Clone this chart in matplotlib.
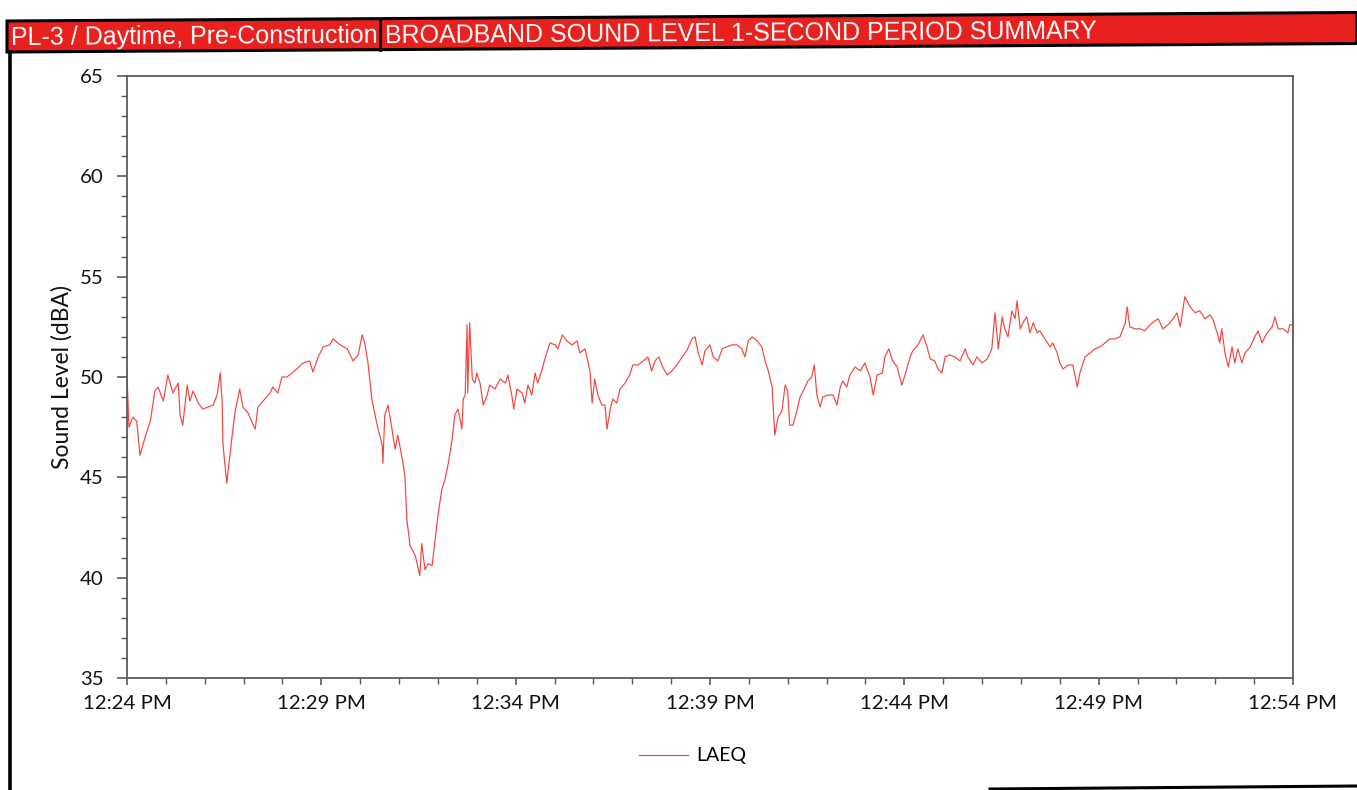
import matplotlib
matplotlib.use("Agg")
import matplotlib.pyplot as plt
from matplotlib.patches import Polygon
from matplotlib.lines import Line2D
from matplotlib.ticker import FixedLocator, MultipleLocator

W, H = 1357, 790

# LAEQ readings, seconds after 12:24:00 PM
seconds = [
    0, 3, 9, 15, 20, 28, 36, 43, 48, 56, 63, 71, 79, 82, 86, 93, 97, 102, 110,
    117, 125, 133, 139, 144, 147, 148, 154, 162, 167, 174, 179, 187, 195, 198,
    202, 210, 221, 225, 233, 239, 247, 255, 262, 272, 282, 287, 295, 303, 313,
    318, 329, 340, 349, 357, 363, 367, 372, 378, 383, 387, 394, 395, 398, 403,
    409, 414, 418, 425, 429, 432, 437, 445, 452, 455, 460, 465, 471, 475, 480,
    486, 491, 496, 502, 506, 511, 517, 519, 522, 525, 526, 529, 533, 537, 540,
    545, 550, 556, 560, 568, 576, 584, 588, 594, 597, 602, 610, 614, 619, 625,
    630, 634, 641, 645, 653, 661, 665, 672, 679, 687, 695, 699, 707, 712, 715,
    718, 722, 727, 733, 738, 741, 746, 750, 756, 761, 769, 776, 781, 789, 797,
    804, 810, 815, 821, 827, 834, 841, 849, 857, 864, 872, 877, 881, 888, 892,
    900, 905, 912, 919, 926, 934, 942, 949, 954, 959, 965, 973, 980, 985, 990,
    996, 997, 1000, 1005, 1011, 1016, 1020, 1023, 1028, 1034, 1039, 1044, 1051,
    1057, 1061, 1065, 1070, 1074, 1082, 1090, 1096, 1101, 1105, 1111, 1116,
    1124, 1132, 1139, 1147, 1152, 1158, 1166, 1170, 1176, 1182, 1189, 1196,
    1201, 1209, 1213, 1221, 1229, 1235, 1240, 1247, 1252, 1258, 1263, 1270,
    1278, 1286, 1294, 1298, 1306, 1312, 1320, 1328, 1335, 1340, 1345, 1351,
    1355, 1360, 1366, 1371, 1374, 1379, 1383, 1389, 1394, 1399, 1405, 1409,
    1417, 1425, 1429, 1436, 1440, 1445, 1453, 1460, 1467, 1471, 1479, 1487,
    1494, 1502, 1510, 1517, 1525, 1533, 1541, 1544, 1548, 1556, 1564, 1571,
    1579, 1587, 1592, 1599, 1607, 1615, 1621, 1626, 1633, 1641, 1649, 1656,
    1664, 1672, 1676, 1683, 1687, 1690, 1695, 1700, 1706, 1710, 1715, 1721,
    1726, 1734, 1741, 1746, 1752, 1760, 1768, 1772, 1777, 1785, 1792, 1795,
    1800,
]
laeq = [
    50.1, 47.5, 48.0, 47.8, 46.1, 47.0, 47.8, 49.3, 49.5, 48.8, 50.1, 49.2,
    49.7, 48.1, 47.6, 49.6, 48.8, 49.3, 48.7, 48.4, 48.5, 48.6, 49.1, 50.2,
    48.7, 46.7, 44.7, 47.0, 48.3, 49.4, 48.5, 48.2, 47.6, 47.4, 48.5, 48.8,
    49.2, 49.5, 49.2, 50.0, 50.0, 50.2, 50.4, 50.7, 50.8, 50.25, 51.0, 51.5,
    51.6, 51.9, 51.6, 51.4, 50.8, 51.1, 52.1, 51.7, 50.7, 48.9, 48.1, 47.5,
    46.6, 45.7, 48.1, 48.6, 47.4, 46.4, 47.1, 45.9, 45.1, 42.9, 41.6, 41.1,
    40.1, 41.7, 40.4, 40.7, 40.6, 41.7, 43.1, 44.4, 44.9, 45.7, 46.9, 48.1,
    48.4, 47.4, 48.9, 49.1, 52.6, 49.2, 52.7, 49.9, 49.7, 50.2, 49.7, 48.6,
    49.1, 49.6, 49.4, 49.9, 49.7, 50.1, 49.1, 48.4, 49.4, 49.2, 48.7, 49.6,
    49.1, 50.2, 49.7, 50.4, 50.9, 51.7, 51.6, 51.4, 52.1, 51.8, 51.6, 51.8,
    51.2, 51.4, 50.7, 50.2, 48.7, 49.9, 49.1, 48.6, 48.6, 47.4, 48.4, 48.9,
    48.7, 49.4, 49.7, 50.1, 50.6, 50.6, 50.8, 51.0, 50.3, 50.8, 51.0, 50.5,
    50.1, 50.3, 50.6, 51.0, 51.3, 51.9, 52.0, 51.3, 50.6, 51.3, 51.6, 51.0,
    50.8, 51.4, 51.5, 51.6, 51.6, 51.4, 51.0, 51.8, 52.0, 51.8, 51.5, 50.8,
    50.3, 49.5, 48.8, 47.1, 48.0, 48.3, 49.6, 49.3, 47.6, 47.6, 48.3, 49.0,
    49.3, 49.8, 50.0, 50.6, 49.1, 48.5, 49.0, 49.1, 49.1, 48.6, 49.5, 49.8,
    49.5, 50.1, 50.5, 50.3, 50.7, 50.0, 49.1, 50.1, 50.2, 51.0, 51.4, 50.8,
    50.5, 49.6, 50.1, 51.0, 51.3, 51.6, 52.1, 51.5, 50.9, 50.8, 50.4, 50.2,
    51.0, 51.1, 51.0, 50.8, 51.4, 51.0, 50.6, 51.0, 50.7, 50.9, 51.4, 53.2,
    51.4, 53.0, 52.4, 52.0, 53.3, 52.9, 53.8, 52.4, 52.7, 53.0, 52.2, 52.7,
    52.2, 52.3, 51.9, 51.5, 51.7, 51.2, 50.7, 50.4, 50.6, 50.6, 49.5, 50.2,
    51.0, 51.2, 51.4, 51.5, 51.7, 51.9, 51.9, 52.0, 52.7, 53.5, 52.5, 52.4,
    52.4, 52.3, 52.6, 52.8, 52.9, 52.4, 52.6, 52.9, 53.2, 52.5, 54.0, 53.5,
    53.2, 53.3, 52.9, 53.1, 52.9, 52.2, 51.7, 52.4, 51.2, 50.5, 51.5, 50.7,
    51.4, 50.7, 51.2, 51.5, 52.0, 52.3, 51.7, 52.2, 52.5, 53.0, 52.4, 52.4,
    52.2, 52.6, 52.6,
]

tick_labels = ["12:24 PM", "12:29 PM", "12:34 PM", "12:39 PM",
               "12:44 PM", "12:49 PM", "12:54 PM"]
site_label = "PL-3 / Daytime, Pre-Construction"
title = "BROADBAND SOUND LEVEL 1-SECOND PERIOD SUMMARY"
series_name = "LAEQ"

LINE_RED = "#F2453D"
HEADER_RED = "#E8201E"
AXIS_GREY = "#5A5A5A"
LABEL_FONT = ["Lato", "DejaVu Sans"]
HEADER_FONT = ["Liberation Sans", "DejaVu Sans"]


def fx(x):
    return x / W


def fy(y):
    return 1 - y / H


def slant(x, y):
    # the page header sits slightly tilted; follow that tilt
    return (fx(x), fy(y - 8.5 * (x - 7) / 1350))


fig = plt.figure(figsize=(W / 100, H / 100), dpi=100)
fig.patch.set_facecolor("white")

# header bar
bar = Polygon([slant(7, 21), slant(1357, 21), slant(1357, 52), slant(7, 52)],
              closed=True, transform=fig.transFigure, facecolor=HEADER_RED,
              edgecolor="black", linewidth=2.2)
fig.patches.append(bar)
fig.lines.append(Line2D([slant(380, 21)[0], slant(380, 52)[0]],
                        [slant(380, 21)[1], slant(380, 52)[1]],
                        transform=fig.transFigure, color="black", lw=2.0))
fig.text(*slant(11, 45.5), site_label, color="white", fontsize=18,
         family=HEADER_FONT, ha="left", va="baseline", rotation=0.36,
         rotation_mode="anchor")
fig.text(*slant(385, 45.5), title, color="white", fontsize=18,
         family=HEADER_FONT, ha="left", va="baseline", rotation=0.36,
         rotation_mode="anchor")

# page border below the header
fig.lines.append(Line2D([fx(9.5), fx(9.5)], [fy(52), fy(790)],
                        transform=fig.transFigure, color="black", lw=2.6))
fig.lines.append(Line2D([fx(990), fx(1357)], [fy(789), fy(786)],
                        transform=fig.transFigure, color="black", lw=2.2))

ax_left, ax_right, ax_top, ax_bottom = 127, 1293, 76, 678
ax = fig.add_axes([fx(ax_left), fy(ax_bottom),
                   (ax_right - ax_left) / W, (ax_bottom - ax_top) / H])

line, = ax.plot(seconds, laeq, color=LINE_RED, lw=0.85, label=series_name)

ax.set_xlim(0, 1800)
ax.set_ylim(35, 65)
ax.xaxis.set_major_locator(FixedLocator([i * 300 for i in range(len(tick_labels))]))
ax.set_xticklabels(tick_labels)
ax.xaxis.set_minor_locator(MultipleLocator(60))
ax.yaxis.set_major_locator(MultipleLocator(5))
ax.yaxis.set_minor_locator(MultipleLocator(1))

for side in ["left", "bottom", "top", "right"]:
    ax.spines[side].set_color(AXIS_GREY)
    ax.spines[side].set_linewidth(1.3)

ax.tick_params(axis="y", which="major", length=7, width=1.2, color=AXIS_GREY,
               pad=10, labelsize=14.7)
ax.tick_params(axis="y", which="minor", length=4, width=1.0, color=AXIS_GREY)
ax.tick_params(axis="x", which="major", length=5, width=1.2, color=AXIS_GREY,
               pad=7, labelsize=14.7)
ax.tick_params(axis="x", which="minor", length=4, width=1.0, color=AXIS_GREY)
for lbl in ax.get_xticklabels() + ax.get_yticklabels():
    lbl.set_family(LABEL_FONT)
    lbl.set_color("#111111")

ax.set_ylabel("Sound Level (dBA)", fontsize=16.5, family=LABEL_FONT,
              color="#111111", labelpad=5)

fig.legend(handles=[line], loc="center", bbox_to_anchor=(fx(693), fy(756)),
           frameon=False, handlelength=2.5, handletextpad=0.45,
           prop={"family": LABEL_FONT, "size": 14})

fig.savefig("out.png", dpi=100, facecolor="white")
